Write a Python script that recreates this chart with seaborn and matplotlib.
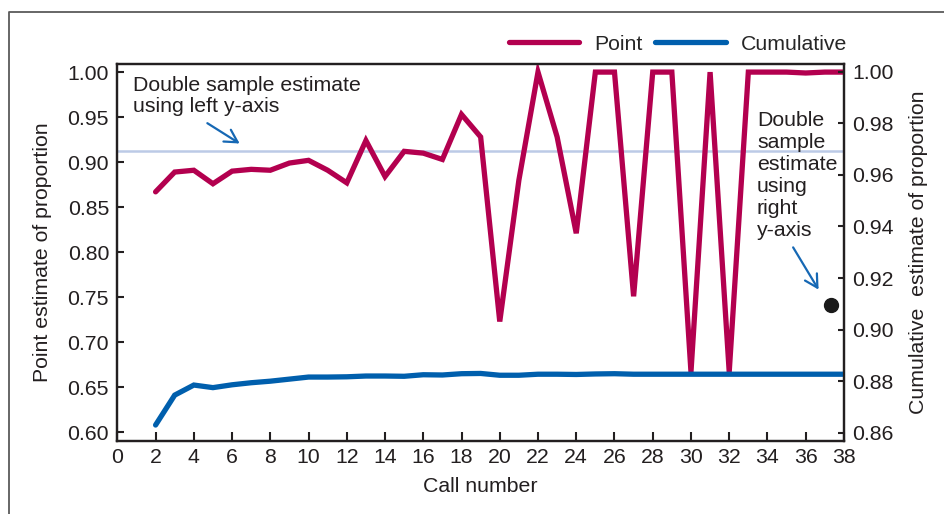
import matplotlib
matplotlib.use("Agg")
import matplotlib.pyplot as plt
from matplotlib.lines import Line2D
import seaborn as sns
import pandas as pd

# ---- data ----
call_number = list(range(2, 39))
point_estimate = [0.867, 0.889, 0.891, 0.876, 0.890, 0.892, 0.891, 0.899, 0.902, 0.891,
                  0.877, 0.924, 0.884, 0.912, 0.910, 0.903, 0.953, 0.928, 0.723, 0.880,
                  1.000, 0.928, 0.821, 1.000, 1.000, 0.751, 1.000, 1.000, 0.667, 1.000,
                  0.667, 1.000, 1.000, 1.000, 0.999, 1.000, 1.000]
cumulative_estimate = [0.8630, 0.8746, 0.8785, 0.8775, 0.8786, 0.8794, 0.8800, 0.8808,
                       0.8816, 0.8816, 0.8817, 0.8820, 0.8820, 0.8819, 0.8825, 0.8824,
                       0.8829, 0.8830, 0.8823, 0.8823, 0.8827, 0.8827, 0.8826, 0.8828,
                       0.8829, 0.8827, 0.8827, 0.8827, 0.8827, 0.8827, 0.8827, 0.8827,
                       0.8827, 0.8827, 0.8827, 0.8827, 0.8827]
double_left = 0.9129
double_right_x = 37.3
double_right = 0.9095
left_ticks = [0.60, 0.65, 0.70, 0.75, 0.80, 0.85, 0.90, 0.95, 1.00]
right_ticks = [0.86, 0.88, 0.90, 0.92, 0.94, 0.96, 0.98, 1.00]
x_ticks = list(range(0, 39, 2))

df = pd.DataFrame({"call": call_number, "point": point_estimate, "cum": cumulative_estimate})

RED = "#b3004f"
BLUE = "#005fad"
REF = "#bccae6"
ARROW = "#1668b4"
INK = "#231f20"
FS = 15.3

sns.set_style("ticks")
plt.rcParams['font.family'] = ['Liberation Sans', 'DejaVu Sans']
plt.rcParams['font.size'] = FS

fig = plt.figure(figsize=(9.44, 5.14), dpi=100)
ax = fig.add_axes([0.1243, 0.142, 0.7697, 0.7335])
ax2 = ax.twinx()

ax.axhline(double_left, color=REF, lw=1.8, zorder=1)
sns.lineplot(data=df, x="call", y="point", ax=ax, color=RED, lw=3.8, zorder=2)
sns.lineplot(data=df, x="call", y="cum", ax=ax2, color=BLUE, lw=3.8, zorder=2)
ax2.plot([double_right_x], [double_right], 'o', color="#1a1a1a", ms=10, zorder=3)
for l in ax.lines + ax2.lines:
    l.set_solid_joinstyle('miter')

ax.set_xlim(0, 38)
ax.set_ylim(0.5903, 1.009)
ax2.set_ylim(0.8568, 1.003)
ax.set_xticks(x_ticks)
ax.set_yticks(left_ticks)
ax.set_yticklabels([f"{v:.2f}" for v in left_ticks])
ax2.set_yticks(right_ticks)
ax2.set_yticklabels([f"{v:.2f}" for v in right_ticks])

for a in (ax, ax2):
    for s in a.spines.values():
        s.set_visible(True)
        s.set_linewidth(1.6)
        s.set_color(INK)
ax.tick_params(axis='x', direction='in', length=6.5, width=1.5, pad=5, labelsize=FS, colors=INK)
ax.tick_params(axis='y', direction='in', length=5, width=1.5, pad=6, labelsize=FS, colors=INK)
ax2.tick_params(axis='y', direction='in', length=4, width=1.5, pad=6, labelsize=FS, colors=INK)

ax.set_xlabel("Call number", fontsize=FS, labelpad=7, color=INK)
ax.set_ylabel("Point estimate of proportion", fontsize=FS, labelpad=11, color=INK)
ax2.set_ylabel("Cumulative  estimate of proportion", fontsize=FS, labelpad=11, color=INK)

# annotations
fig.text(133 / 944, 1 - 76 / 514, "Double sample estimate\nusing left y-axis", fontsize=FS,
         va='top', ha='left', linespacing=1.12, color=INK)
fig.add_artist(matplotlib.patches.FancyArrowPatch(
    (205 / 944, 1 - 121.7 / 514), (242 / 944, 1 - 145 / 514),
    transform=fig.transFigure, arrowstyle='->,head_length=9,head_width=5',
    color=ARROW, lw=1.6, mutation_scale=1))
fig.text(757 / 944, 1 - 111 / 514, "Double\nsample\nestimate\nusing\nright\ny-axis",
         fontsize=FS, va='top', ha='left', linespacing=1.2, color=INK)
fig.add_artist(matplotlib.patches.FancyArrowPatch(
    (791.7 / 944, 1 - 245 / 514), (820 / 944, 1 - 292 / 514),
    transform=fig.transFigure, arrowstyle='->,head_length=9,head_width=5',
    color=ARROW, lw=1.6, mutation_scale=1))

# legend
handles = [Line2D([], [], color=RED, lw=3.8), Line2D([], [], color=BLUE, lw=3.8)]
fig.legend(handles, ["Point", "Cumulative"], loc='center', bbox_to_anchor=(678 / 944, 1 - 44 / 514),
           ncol=2, frameon=False, fontsize=FS, handlelength=3.3, handletextpad=0.7,
           columnspacing=0.6, borderpad=0, borderaxespad=0)

# figure frame (left and top)
fig.add_artist(Line2D([9 / 944, 9 / 944, 1], [0, 1 - 12 / 514, 1 - 12 / 514],
                      transform=fig.transFigure, color="#5a5a5a", lw=1.3))

fig.savefig("out.png", dpi=100)
